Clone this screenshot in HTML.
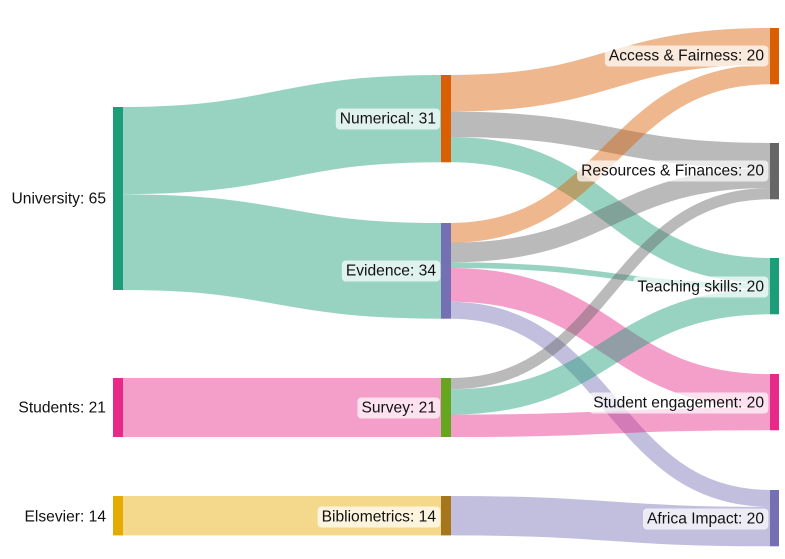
<!DOCTYPE html>
<html><head><meta charset="utf-8"><style>
html,body{margin:0;padding:0;background:#fff;}
svg{display:block;font-family:"Liberation Sans",sans-serif;font-size:15.6px;}
</style></head><body>
<svg id="s" width="785" height="559" viewBox="0 0 785 559">
<g fill="none" stroke-opacity="0.45">
<path d="M123 150.6C282 150.6 282 118.6 441 118.6" stroke="#1b9e77" stroke-width="87.3"/>
<path d="M123 242.2C282 242.2 282 270.9 441 270.9" stroke="#1b9e77" stroke-width="95.7"/>
<path d="M123 407.5C282 407.5 282 407.5 441 407.5" stroke="#e7298a" stroke-width="59"/>
<path d="M123 515.7C282 515.7 282 515.7 441 515.7" stroke="#e6ab02" stroke-width="39.4"/>
<path d="M451 93.3C610.5 93.3 610.5 46.3 770 46.3" stroke="#d95f02" stroke-width="36.6"/>
<path d="M451 124.3C610.5 124.3 610.5 155.6 770 155.6" stroke="#666" stroke-width="25.3"/>
<path d="M451 149.6C610.5 149.6 610.5 270.6 770 270.6" stroke="#1b9e77" stroke-width="25.3"/>
<path d="M451 232.8C610.5 232.8 610.5 74.4 770 74.4" stroke="#d95f02" stroke-width="19.7"/>
<path d="M451 252.5C610.5 252.5 610.5 178.1 770 178.1" stroke="#666" stroke-width="19.7"/>
<path d="M451 265.2C610.5 265.2 610.5 286.1 770 286.1" stroke="#1b9e77" stroke-width="5.6"/>
<path d="M451 284.9C610.5 284.9 610.5 391 770 391" stroke="#e7298a" stroke-width="33.8"/>
<path d="M451 310.3C610.5 310.3 610.5 498.4 770 498.4" stroke="#7570b3" stroke-width="16.9"/>
<path d="M451 383.6C610.5 383.6 610.5 193.6 770 193.6" stroke="#666" stroke-width="11.3"/>
<path d="M451 402C610.5 402 610.5 301.6 770 301.6" stroke="#1b9e77" stroke-width="25.3"/>
<path d="M451 425.8C610.5 425.8 610.5 419 770 419" stroke="#e7298a" stroke-width="22.5"/>
<path d="M451 515.7C610.5 515.7 610.5 526.6 770 526.6" stroke="#7570b3" stroke-width="39.4"/>
</g>
<g>
<rect x="113" y="107" width="10" height="183" fill="#1b9e77"/>
<rect x="113" y="378" width="10" height="59" fill="#e7298a"/>
<rect x="113" y="496" width="10" height="39.4" fill="#e6ab02"/>
<rect x="441" y="75" width="10" height="87.3" fill="#d95f02"/>
<rect x="441" y="223" width="10" height="95.7" fill="#7570b3"/>
<rect x="441" y="378" width="10" height="59" fill="#66a61e"/>
<rect x="441" y="496" width="10" height="39.4" fill="#a6761d"/>
<rect x="770" y="28" width="9" height="56.3" fill="#d95f02"/>
<rect x="770" y="143" width="9" height="56.3" fill="#666"/>
<rect x="770" y="258" width="9" height="56.3" fill="#1b9e77"/>
<rect x="770" y="374" width="9" height="56.3" fill="#e7298a"/>
<rect x="770" y="490" width="9" height="56.3" fill="#7570b3"/>
</g>
<g id="boxes"></g>
<g text-anchor="end" fill="#111" dominant-baseline="central">
<text x="106" y="199">University: 65</text>
<text x="106" y="408">Students: 21</text>
<text x="106" y="517">Elsevier: 14</text>
<text class="b" x="436" y="119">Numerical: 31</text>
<text class="b" x="436" y="271">Evidence: 34</text>
<text class="b" x="436" y="408">Survey: 21</text>
<text class="b" x="436" y="517">Bibliometrics: 14</text>
<text class="b" x="764" y="56">Access &amp; Fairness: 20</text>
<text class="b" x="764" y="171">Resources &amp; Finances: 20</text>
<text class="b" x="764" y="287">Teaching skills: 20</text>
<text class="b" x="764" y="403">Student engagement: 20</text>
<text class="b" x="764" y="519">Africa Impact: 20</text>
</g>
</svg>
<script>
var g=document.getElementById('boxes');
document.querySelectorAll('text.b').forEach(function(t){
 var b=t.getBBox();
 var r=document.createElementNS('http://www.w3.org/2000/svg','rect');
 r.setAttribute('x',b.x-4);r.setAttribute('y',b.y-2);
 r.setAttribute('width',b.width+8);r.setAttribute('height',b.height+4);
 r.setAttribute('rx',4);r.setAttribute('fill','#fff');r.setAttribute('fill-opacity','0.7');
 g.appendChild(r);
});
</script>
</body></html>
